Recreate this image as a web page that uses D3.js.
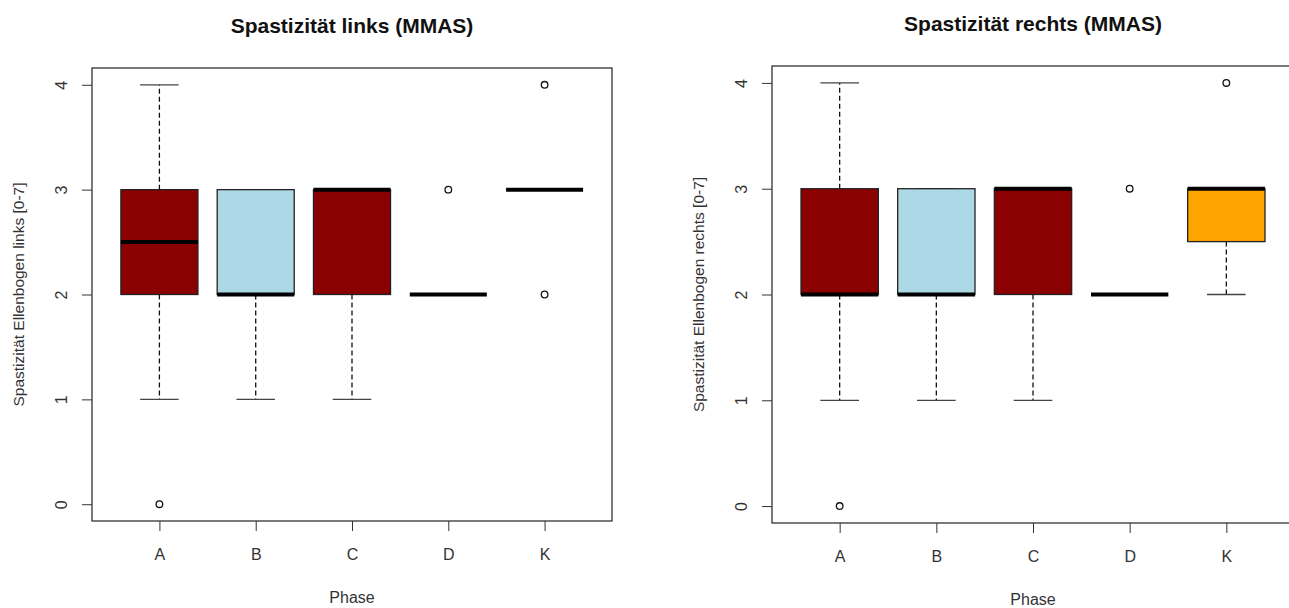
<!DOCTYPE html>
<html>
<head>
<meta charset="utf-8">
<script src="https://cdn.jsdelivr.net/npm/d3@7"></script>
<style>
    body { margin: 0; background: #fff; }
    svg text { font-family: "Liberation Sans", Arial, sans-serif; fill: #333; }
</style>
</head>
<body>
<div id="chart"></div>
<script>
const phases = ["A", "B", "C", "D", "K"];
const box_fill = ["#8b0000", "#add8e6", "#8b0000", "#add8e6", "#ffa500"];
const y_ticks = [0, 1, 2, 3, 4];

// left side
const links_low = [1, 1, 1, 2, 3];
const links_q1 = [2, 2, 2, 2, 3];
const links_median = [2.5, 2, 3, 2, 3];
const links_q3 = [3, 3, 3, 2, 3];
const links_high = [4, 3, 3, 2, 3];
const links_outliers = [[0], [], [], [3], [4, 2]];

// right side
const rechts_low = [1, 1, 1, 2, 2];
const rechts_q1 = [2, 2, 2, 2, 2.5];
const rechts_median = [2, 2, 3, 2, 3];
const rechts_q3 = [3, 3, 3, 2, 3];
const rechts_high = [4, 3, 3, 2, 3];
const rechts_outliers = [[0], [], [], [3], [4]];

class boxPanel {

    constructor(svg, box, texts) {
        this.svg = svg;
        this.box = box;
        this.texts = texts;
    }

    draw(low, q1, median, q3, high, outliers) {
        let b = this.box;
        let g = this.svg.append("g");

        this.x = d3.scalePoint()
            .domain(phases)
            .range([b.left, b.left + b.width])
            .padding(0.7);

        this.y = d3.scaleLinear()
            .domain([-0.16, 4.16])
            .range([b.bottom, b.top]);

        let x = this.x, y = this.y;
        let w = x.step() * 0.8;

        // y axis, labels turned like R does
        g.append("g")
            .attr("transform", "translate(" + b.left + ",0)")
            .style("color", "#333")
            .call(d3.axisLeft(y).tickValues(y_ticks).tickFormat(d3.format("d"))
                .tickSize(10).tickSizeOuter(0))
            .call(a => a.select(".domain").remove())
            .call(a => a.selectAll("text")
                .attr("transform", "rotate(-90)")
                .attr("x", 0).attr("y", -25).attr("dy", 0)
                .attr("text-anchor", "middle")
                .style("font-size", "16px"));

        g.append("g")
            .attr("transform", "translate(0," + b.bottom + ")")
            .style("color", "#333")
            .call(d3.axisBottom(x).tickSize(10).tickPadding(18).tickSizeOuter(0))
            .call(a => a.select(".domain").remove())
            .call(a => a.selectAll("text").style("font-size", "16px"));

        let rows = phases.map((p, i) => ({
            p: p, low: low[i], q1: q1[i], med: median[i], q3: q3[i], high: high[i],
            out: outliers[i], fill: box_fill[i]
        }));

        let items = g.selectAll(".item").data(rows).enter().append("g").attr("class", "item");

        items.append("line")
            .attr("x1", d => x(d.p)).attr("x2", d => x(d.p))
            .attr("y1", d => y(d.q3)).attr("y2", d => y(d.high))
            .attr("stroke", "#111").attr("stroke-width", 1.3).attr("stroke-dasharray", "5,3");
        items.append("line")
            .attr("x1", d => x(d.p)).attr("x2", d => x(d.p))
            .attr("y1", d => y(d.q1)).attr("y2", d => y(d.low))
            .attr("stroke", "#111").attr("stroke-width", 1.3).attr("stroke-dasharray", "5,3");

        ["high", "low"].forEach(k => {
            items.append("line")
                .attr("x1", d => x(d.p) - w / 4).attr("x2", d => x(d.p) + w / 4)
                .attr("y1", d => y(d[k])).attr("y2", d => y(d[k]))
                .attr("stroke", "#444").attr("stroke-width", 1.3);
        });

        items.append("rect")
            .attr("x", d => x(d.p) - w / 2)
            .attr("y", d => y(d.q3))
            .attr("width", w)
            .attr("height", d => y(d.q1) - y(d.q3))
            .attr("fill", d => d.fill)
            .attr("stroke", "#222").attr("stroke-width", 1.3);

        items.append("line")
            .attr("x1", d => x(d.p) - w / 2).attr("x2", d => x(d.p) + w / 2)
            .attr("y1", d => y(d.med)).attr("y2", d => y(d.med))
            .attr("stroke", "#000").attr("stroke-width", 4);

        items.selectAll("circle")
            .data(d => d.out.map(v => ({p: d.p, v: v})))
            .enter().append("circle")
            .attr("cx", d => x(d.p)).attr("cy", d => y(d.v))
            .attr("r", 3.3)
            .attr("fill", "none").attr("stroke", "#111").attr("stroke-width", 1.3);

        // frame
        g.append("rect")
            .attr("x", b.left).attr("y", b.top)
            .attr("width", b.width).attr("height", b.bottom - b.top)
            .attr("fill", "none").attr("stroke", "#333").attr("stroke-width", 1.3);

        g.append("text")
            .attr("x", b.left + b.width / 2).attr("y", b.top - 35)
            .attr("text-anchor", "middle")
            .style("font-size", "21px").style("font-weight", "bold").style("fill", "#111")
            .text(this.texts.title);

        g.append("text")
            .attr("x", b.left + b.width / 2).attr("y", b.bottom + 82)
            .attr("text-anchor", "middle")
            .style("font-size", "16px")
            .text(this.texts.xlab);

        g.append("text")
            .attr("transform", "translate(" + (b.left - 68) + "," + ((b.top + b.bottom) / 2) + ") rotate(-90)")
            .attr("text-anchor", "middle")
            .style("font-size", "15.5px")
            .text(this.texts.ylab);
    }
}

let svg = d3.select("#chart").append("svg")
    .attr("width", 1289)
    .attr("height", 608);

new boxPanel(svg, {left: 92, width: 520, top: 68, bottom: 521}, {
    title: "Spastizität links (MMAS)",
    xlab: "Phase",
    ylab: "Spastizität Ellenbogen links [0-7]"
}).draw(links_low, links_q1, links_median, links_q3, links_high, links_outliers);

new boxPanel(svg, {left: 772, width: 522, top: 66, bottom: 523}, {
    title: "Spastizität rechts (MMAS)",
    xlab: "Phase",
    ylab: "Spastizität Ellenbogen rechts [0-7]"
}).draw(rechts_low, rechts_q1, rechts_median, rechts_q3, rechts_high, rechts_outliers);
</script>
</body>
</html>
